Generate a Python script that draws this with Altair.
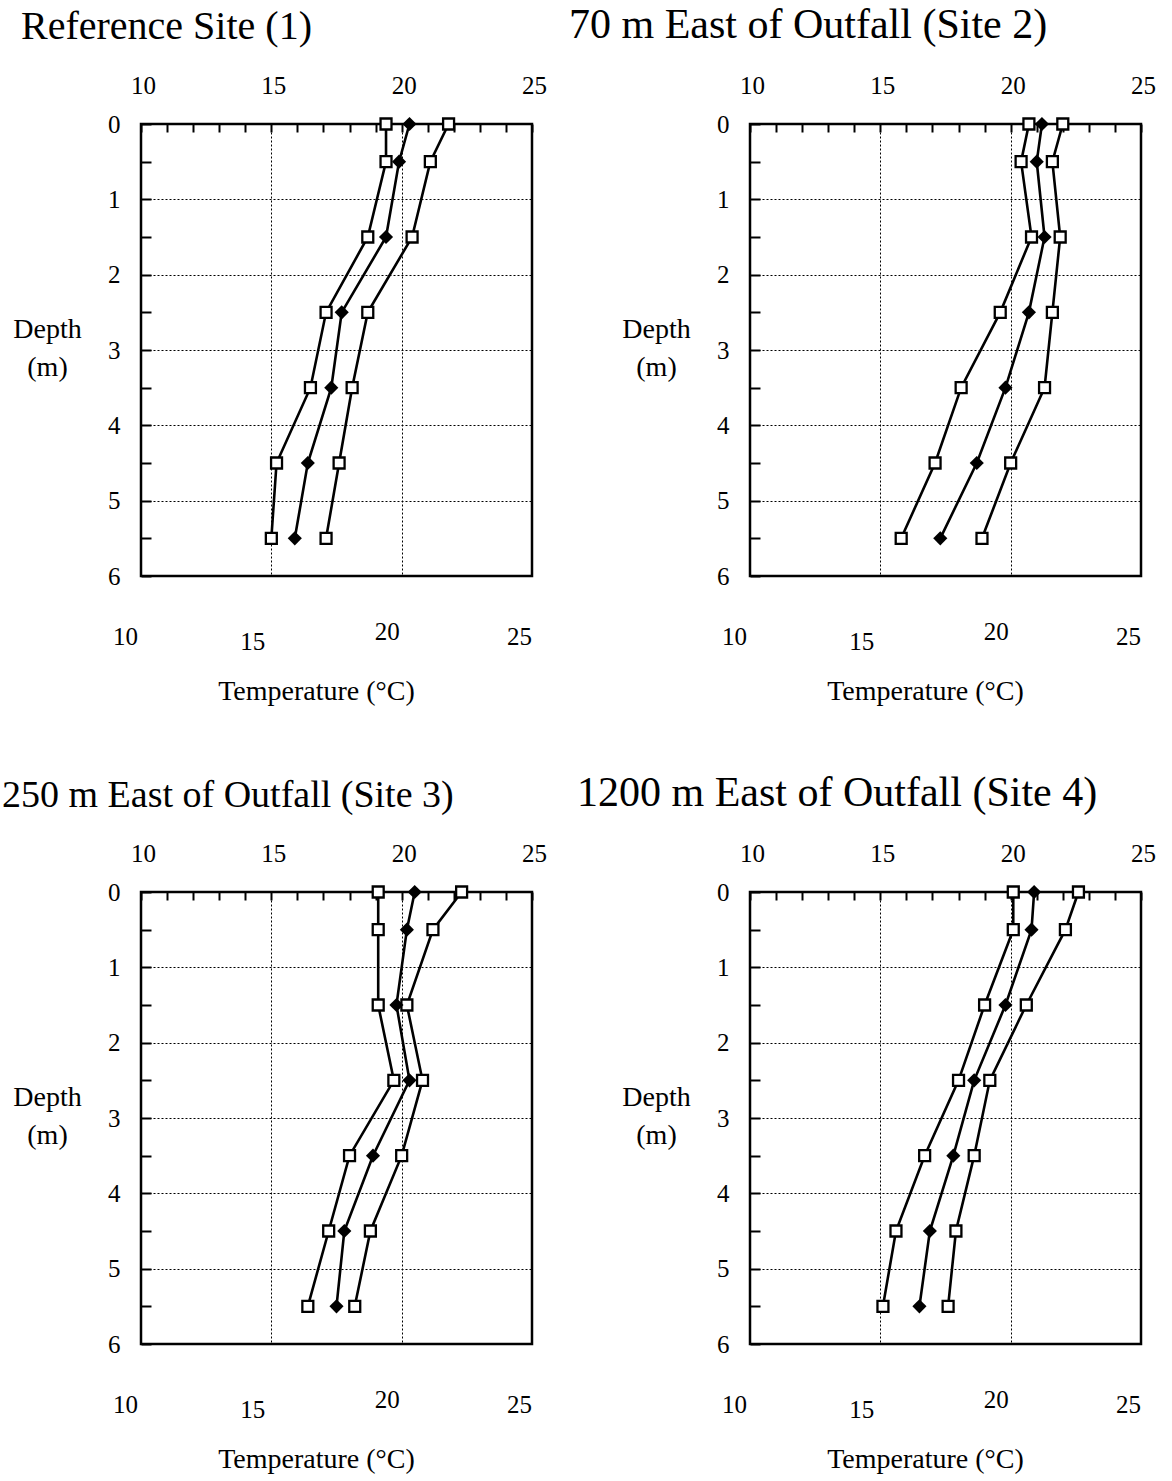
import altair as alt
import pandas as pd

FONT = "Liberation Serif"

depths = [0, 0.5, 1.5, 2.5, 3.5, 4.5, 5.5]

site1_min = [19.4, 19.4, 18.7, 17.1, 16.5, 15.2, 15.0]
site1_mean = [20.3, 19.9, 19.4, 17.7, 17.3, 16.4, 15.9]
site1_max = [21.8, 21.1, 20.4, 18.7, 18.1, 17.6, 17.1]

site2_min = [20.7, 20.4, 20.8, 19.6, 18.1, 17.1, 15.8]
site2_mean = [21.2, 21.0, 21.3, 20.7, 19.8, 18.7, 17.3]
site2_max = [22.0, 21.6, 21.9, 21.6, 21.3, 20.0, 18.9]

site3_min = [19.1, 19.1, 19.1, 19.7, 18.0, 17.2, 16.4]
site3_mean = [20.5, 20.2, 19.8, 20.3, 18.9, 17.8, 17.5]
site3_max = [22.3, 21.2, 20.2, 20.8, 20.0, 18.8, 18.2]

site4_min = [20.1, 20.1, 19.0, 18.0, 16.7, 15.6, 15.1]
site4_mean = [20.9, 20.8, 19.8, 18.6, 17.8, 16.9, 16.5]
site4_max = [22.6, 22.1, 20.6, 19.2, 18.6, 17.9, 17.6]

titles = [
    "Reference Site (1)",
    "70 m East of Outfall (Site 2)",
    "250 m East of Outfall (Site 3)",
    "1200 m East of Outfall (Site 4)",
]
title_dx = [-120, -181, -139, -173]
title_size = [40, 42, 38, 42]

temp_label_values = [10, 15, 20, 25]
temp_tick_values = list(range(10, 26))
depth_label_values = [0, 1, 2, 3, 4, 5, 6]
depth_tick_values = [0, 0.5, 1, 1.5, 2, 2.5, 3, 3.5, 4, 4.5, 5, 5.5, 6]

W, H = 391, 452


def panel(mins, means, maxs, title, dx, tsize):
    df = pd.DataFrame({
        "depth": depths * 3,
        "temp": mins + means + maxs,
        "stat": ["min"] * 7 + ["mean"] * 7 + ["max"] * 7,
    })
    xs = alt.Scale(domain=[10, 25], nice=False, zero=False)
    ys = alt.Scale(domain=[0, 6], reverse=True, nice=False, zero=False)
    base = alt.Chart(df)

    lines = base.mark_line(color="black", strokeWidth=2.6).encode(
        x=alt.X("temp:Q", scale=xs, axis=alt.Axis(
            orient="top", values=temp_label_values, ticks=False, tickSize=0,
            domain=False, grid=True, gridColor="black", gridDash=[2, 2],
            gridWidth=1, gridOpacity=1, labelFont=FONT, labelFontSize=25,
            labelColor="black", labelPadding=31, labelBaseline="alphabetic",
            labelFlush=False, labelOffset=2, title=None)),
        y=alt.Y("depth:Q", scale=ys, axis=alt.Axis(
            orient="left", values=depth_label_values, ticks=False, tickSize=0,
            domain=False, grid=True, gridColor="black", gridDash=[2, 2],
            gridWidth=1, gridOpacity=1, labelFont=FONT, labelFontSize=25,
            labelColor="black", labelPadding=21, labelFlush=False,
            title=["Depth", "(m)"], titleAngle=0, titleAlign="center",
            titleBaseline="middle", titleX=-94, titleY=205,
            titleLineHeight=38, titleFont=FONT, titleFontSize=28,
            titleFontWeight="normal", titleColor="black")),
        detail="stat:N",
        order="depth:Q",
    )

    squares = base.transform_filter("datum.stat != 'mean'").mark_point(
        shape="square", filled=True, fill="white", stroke="black",
        strokeWidth=2.3, size=120, opacity=1).encode(
        x=alt.X("temp:Q", scale=xs, axis=alt.Axis(
            orient="top", offset=-8, values=temp_tick_values, ticks=True,
            tickSize=8, tickWidth=2, tickColor="black", labels=False,
            domain=False, grid=False, title=None)),
        y=alt.Y("depth:Q", scale=ys, axis=alt.Axis(
            orient="left", offset=-10, values=depth_tick_values, ticks=True,
            tickSize=10, tickWidth=2, tickColor="black", labels=False,
            domain=False, grid=False, title=None)),
    )

    diamonds = base.transform_filter("datum.stat == 'mean'").mark_point(
        shape="diamond", filled=True, color="black", size=200, opacity=1).encode(
        x=alt.X("temp:Q", scale=xs, axis=alt.Axis(
            orient="bottom", values=temp_label_values, ticks=False, tickSize=0,
            domain=False, grid=False, labelFont=FONT, labelFontSize=25,
            labelColor="black", labelFlush=False, labelBaseline="alphabetic",
            labelPadding={"condition": [
                {"test": "datum.value == 15", "value": 73},
                {"test": "datum.value == 20", "value": 63}], "value": 68},
            labelOffset={"condition": [
                {"test": "datum.value == 10", "value": -16},
                {"test": "datum.value == 15", "value": -19},
                {"test": "datum.value == 20", "value": -15}], "value": -13},
            title="Temperature (°C)", titleX=175, titleY=123,
            titleAlign="center", titleBaseline="alphabetic", titleFont=FONT,
            titleFontSize=28, titleFontWeight="normal", titleColor="black")),
        y=alt.Y("depth:Q", scale=ys, axis=None),
    )

    return alt.layer(lines, squares, diamonds).resolve_axis(
        x="independent", y="independent"
    ).properties(
        width=W, height=H,
        title=alt.TitleParams(
            text=title, anchor="start", frame="group", dx=dx, offset=26,
            font=FONT, fontSize=tsize, fontWeight="normal", color="black"),
    )


site_mins = [site1_min, site2_min, site3_min, site4_min]
site_means = [site1_mean, site2_mean, site3_mean, site4_mean]
site_maxs = [site1_max, site2_max, site3_max, site4_max]

panels = [
    panel(site_mins[i], site_means[i], site_maxs[i], titles[i], title_dx[i], title_size[i])
    for i in range(4)
]

chart = alt.concat(
    *panels, columns=2, spacing={"row": 316, "column": 218}, bounds="flush"
).properties(
    padding={"left": 0, "top": 2, "right": 0, "bottom": 0},
    background="white",
).configure_view(
    stroke="black", strokeWidth=2.5
)

chart.save("out.html", embed_options={"renderer": "svg", "actions": False})
